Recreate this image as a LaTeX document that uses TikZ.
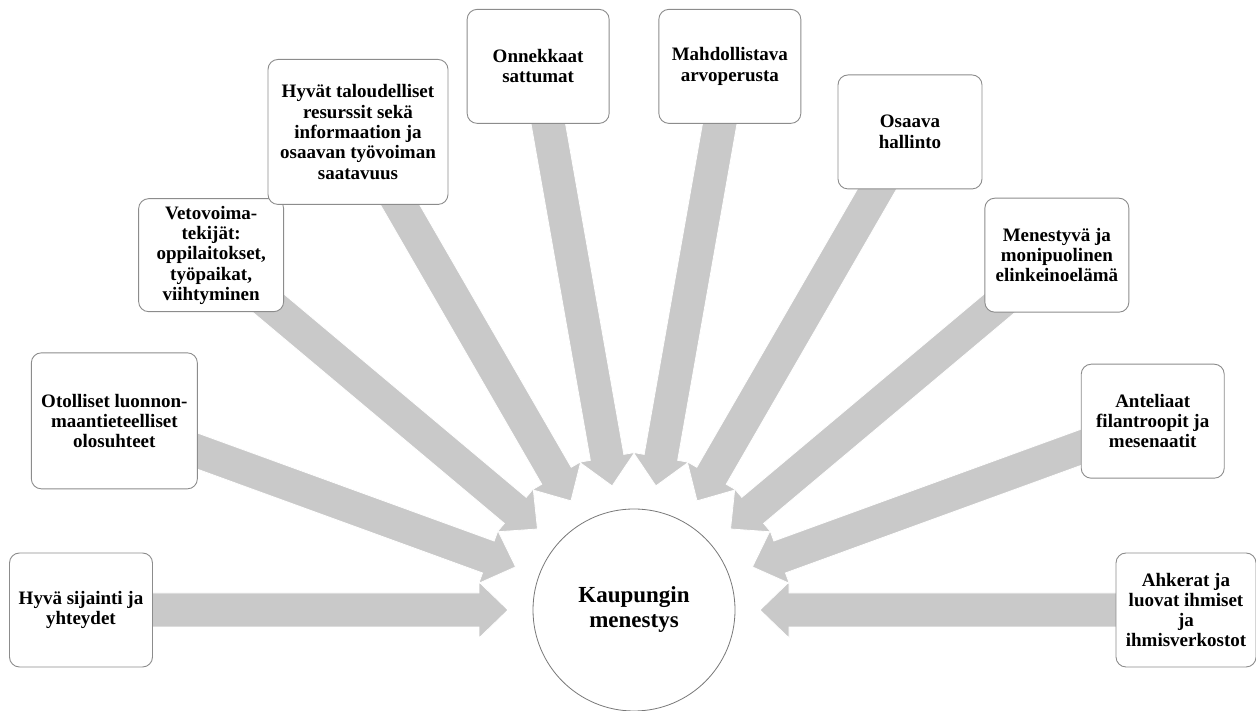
\documentclass[tikz,border=0pt]{standalone}
\usepackage{fontspec}
\setmainfont{Liberation Serif}
\definecolor{arrowgray}{RGB}{201,201,201}
\definecolor{boxline}{RGB}{140,140,140}
\definecolor{hubline}{RGB}{120,120,120}
\begin{document}
\begin{tikzpicture}[x=1pt,y=1pt,
  factorbox/.style={draw=boxline, line width=0.9pt, fill=white, rounded corners=10pt,
    align=center, inner sep=2pt, minimum width=143pt, minimum height=114pt,
    font=\fontsize{19}{20.3}\selectfont\bfseries},
  hubnode/.style={circle, draw=hubline, line width=0.8pt, fill=white, align=center,
    minimum size=202pt, inner sep=0pt, font=\fontsize{23}{25}\selectfont\bfseries},
  radialarrow/.style={fill=arrowgray, draw=white, line width=0.8pt}]
\useasboundingbox (0,0) rectangle (1256,711);
\coordinate (hub) at (634,101);
% converging arrows
\foreach \a in {0,20,40,60,80,100,120,140,160,180}{
  \begin{scope}[shift={(hub)}, rotate=\a]
    \fill[radialarrow] (126,0) -- (155,28) -- (155,17) -- (540,17) -- (540,-17)
      -- (155,-17) -- (155,-28) -- cycle;
  \end{scope}
}
% boxes
\node[factorbox] (b1) at ([shift={(180:553)}]hub) {Hyvä sijainti ja\\yhteydet};
\node[factorbox, minimum width=166pt, minimum height=136pt] (b2) at ([shift={(160:553)}]hub) {Otolliset luonnon-\\maantieteelliset\\olosuhteet};
\node[factorbox, minimum width=145pt, minimum height=113pt] (b3) at ([shift={(140:552)}]hub) {Vetovoima-\\tekijät:\\oppilaitokset,\\työpaikat,\\viihtyminen};
\node[factorbox, minimum width=180pt, minimum height=145pt] (b4) at ([shift={(120:552)}]hub) {Hyvät taloudelliset\\resurssit sekä\\informaation ja\\osaavan työvoiman\\saatavuus};
\node[factorbox, minimum width=142pt] (b5) at ([shift={(100:552)}]hub) {Onnekkaat\\sattumat};
\node[factorbox, minimum width=142pt] (b6) at ([shift={(80:552)}]hub) {Mahdollistava\\arvoperusta};
\node[factorbox, minimum width=144pt] (b7) at ([shift={(60:552)}]hub) {Osaava\\hallinto};
\node[factorbox, minimum width=144pt] (b8) at ([shift={(40:552)}]hub) {Menestyvä ja\\monipuolinen\\elinkeinoelämä};
\node[factorbox] (b9) at ([shift={(20:552)}]hub) {Anteliaat\\filantroopit ja\\mesenaatit};
\node[factorbox, minimum width=140pt] (b10) at ([shift={(0:552)}]hub) {Ahkerat ja\\luovat ihmiset\\ja\\ihmisverkostot};
% hub
\node[hubnode] (center) at (hub) {Kaupungin\\menestys};
\end{tikzpicture}
\end{document}
